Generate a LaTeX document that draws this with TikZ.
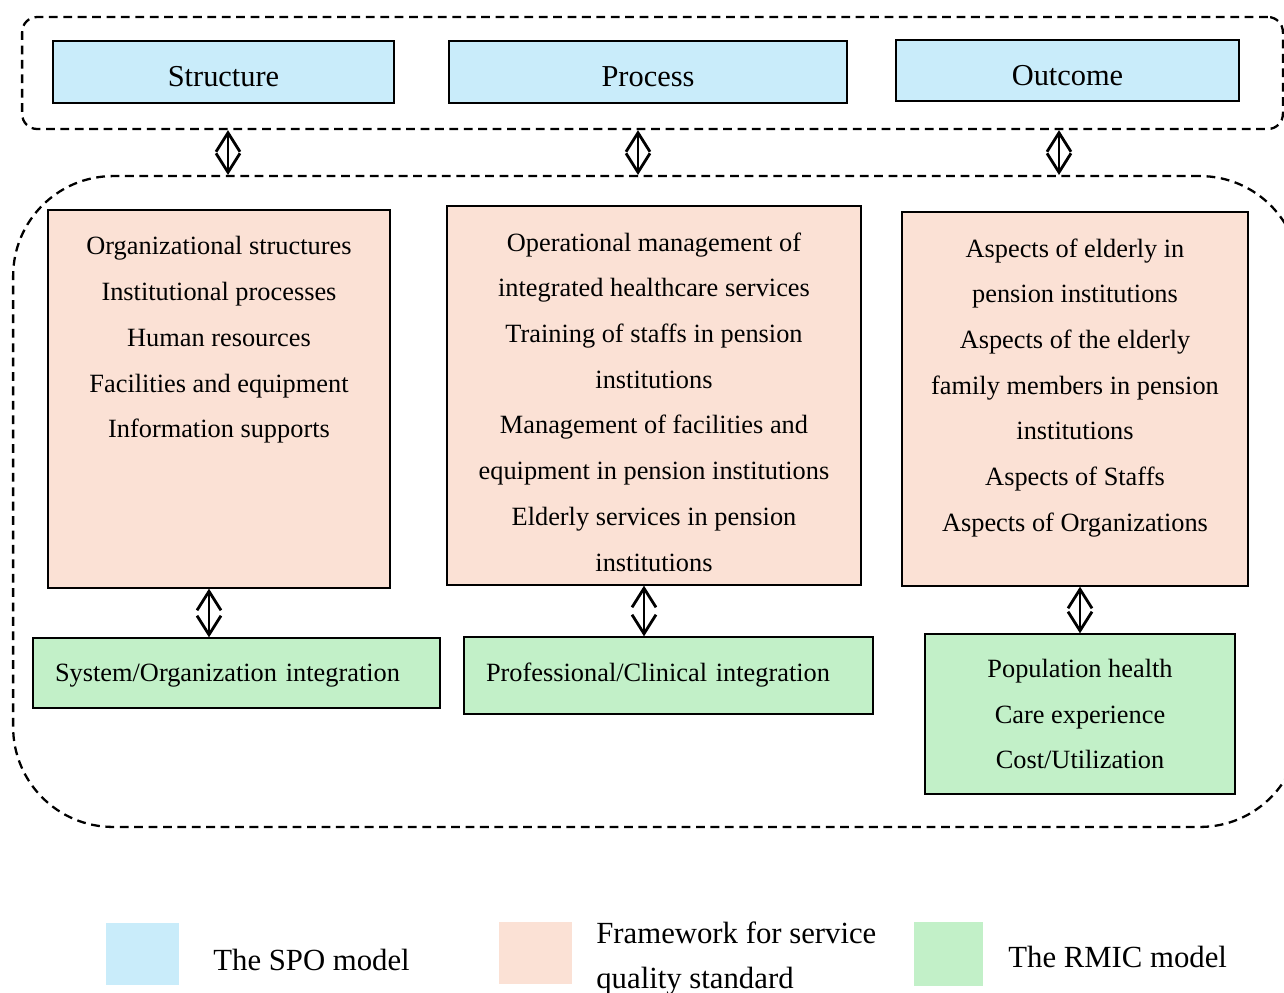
\documentclass[tikz,border=0pt]{standalone}
\usepackage{fontspec}
\setmainfont{Liberation Serif}
\usetikzlibrary{arrows.meta,positioning}

\definecolor{spoblue}{HTML}{C9ECFA}
\definecolor{fwpeach}{HTML}{FBE1D5}
\definecolor{rmicgreen}{HTML}{C2F0C8}

\tikzset{
  spo/.style={draw,line width=0.8pt,fill=spoblue,font=\fontsize{17.3}{21}\selectfont,
    text height=17pt,text depth=0pt},
  fw/.style={draw,line width=0.8pt,fill=fwpeach},
  rmic/.style={draw,line width=0.8pt,fill=rmicgreen,align=center,
    font=\fontsize{15}{26}\selectfont},
  items/.style={align=center,inner sep=0pt,font=\fontsize{15}{26}\selectfont},
  frame/.style={draw,line width=1.3pt,dash pattern=on 5pt off 3.2pt},
  dbl/.style={{Straight Barb[length=0.38cm,width=0.48cm]}-{Straight Barb[length=0.38cm,width=0.48cm]},
    line width=1.6pt},
  legtext/.style={anchor=west,inner sep=0pt,align=left,font=\fontsize{17.5}{25.5}\selectfont}
}

\begin{document}
\begin{tikzpicture}[x=0.02cm,y=-0.02cm]
  \path[use as bounding box,clip] (0,0) rectangle (1284,992);

  % dashed groups
  \node[frame,rounded corners=0.3cm,minimum width=25.22cm,minimum height=2.24cm]
    (spoframe) at (652.5,73) {};
  \node[frame,rounded corners=2cm,minimum width=25.74cm,minimum height=13.02cm]
    (bigframe) at (656.5,501.5) {};

  % SPO model
  \node[spo,minimum width=6.82cm,minimum height=1.24cm] (structure) at (223.5,72) {Structure};
  \node[spo,minimum width=7.96cm,minimum height=1.24cm] (process) at (648,72) {Process};
  \node[spo,minimum width=6.86cm,minimum height=1.22cm] (outcome) at (1067.5,70.5) {Outcome};

  % framework for service quality standard
  \node[fw,minimum width=6.84cm,minimum height=7.56cm] (fs) at (219,399) {};
  \node[fw,minimum width=8.28cm,minimum height=7.58cm] (fp) at (654,395.5) {};
  \node[fw,minimum width=6.92cm,minimum height=7.48cm] (fo) at (1075,399) {};

  \node[items,below=0.54cm of fs.north] (fstext) {Organizational structures\\
    Institutional processes\\ Human resources\\ Facilities and equipment\\
    Information supports};
  \node[items,below=0.54cm of fp.north] (fptext) {Operational management of\\
    integrated healthcare services\\ Training of staffs in pension\\ institutions\\
    Management of facilities and\\ equipment in pension institutions\\
    Elderly services in pension\\ institutions};
  \node[items,below=0.54cm of fo.north] (fotext) {Aspects of elderly in\\
    pension institutions\\ Aspects of the elderly\\ family members in pension\\
    institutions\\ Aspects of Staffs\\ Aspects of Organizations};

  % RMIC model
  \node[rmic,minimum width=8.14cm,minimum height=1.4cm,inner xsep=0.44cm,
    text width=7.26cm,align=left,text height=12pt,text depth=2.2pt] (rs) at (236.5,673)
    {System/Organization integration};
  \node[rmic,minimum width=8.18cm,minimum height=1.54cm,inner xsep=0.44cm,
    text width=7.3cm,align=left,text height=12pt,text depth=5.6pt] (rp) at (668.5,675.5)
    {Professional/Clinical integration};
  \node[rmic,minimum width=6.2cm,minimum height=3.2cm] (ro) at (1080,714)
    {Population health\\ Care experience\\ Cost/Utilization};

  % links
  \foreach \x in {228,638,1059}
    \draw[dbl] (spoframe.south -| \x,0) -- (bigframe.north -| \x,0);
  \draw[dbl] (fs.south -| 209,0) -- (rs.north -| 209,0);
  \draw[dbl] (fp.south -| 644,0) -- (rp.north -| 644,0);
  \draw[dbl] (fo.south -| 1080,0) -- (ro.north -| 1080,0);

  % legend
  \node[fill=spoblue,minimum width=1.46cm,minimum height=1.24cm] (lspo) at (142.5,954) {};
  \node[fill=fwpeach,minimum width=1.46cm,minimum height=1.24cm] (lfw) at (535.5,953) {};
  \node[fill=rmicgreen,minimum width=1.38cm,minimum height=1.28cm] (lrmic) at (948.5,954) {};
  \node[legtext] (lspotext) at (213,960) {The SPO model};
  \node[legtext] (lfwtext) at (596,958.5) {Framework for service\\ quality standard};
  \node[legtext] (lrmictext) at (1008,957) {The RMIC model};
\end{tikzpicture}
\end{document}
